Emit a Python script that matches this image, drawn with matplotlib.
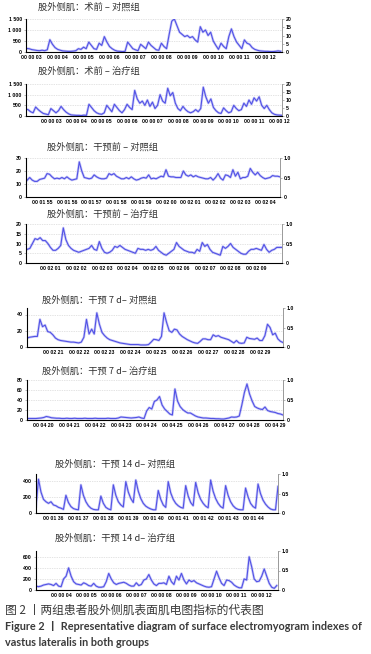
import numpy as np
import matplotlib
matplotlib.use("Agg")
import matplotlib.pyplot as plt
from matplotlib import font_manager

W, H = 371, 654
STEP = 0.1  # seconds between samples

# ---- EMG traces (one value per 0.1 s) ----
pre_ctrl_t0 = 2.8
pre_ctrl = [
    160, 150,
    110, 90, 70, 60, 80, 60, 100, 560, 350, 200,
    120, 80, 50, 40, 30, 30, 40, 60, 150, 120,
    220, 150, 450, 300, 150, 120, 400, 300, 700, 450,
    250, 150, 80, 40, 30, 20, 30, 450, 300, 150,
    100, 60, 350, 250, 150, 450, 300, 200, 100, 80,
    400, 250, 150, 800, 1400, 1500, 1200, 900, 800, 700,
    750, 650, 700, 550, 450, 1150, 900, 1000, 750, 900,
    500, 300, 120, 400, 250, 150, 700, 1050, 700, 450,
    300, 150, 550, 400, 350, 200, 120, 80, 50, 40,
    30, 30, 20, 20, 30, 50, 30,
]

pre_trt_t0 = 2.0
pre_trt = [
    320, 300, 200, 150, 420, 300, 200, 120, 90, 60,
    350, 250, 150, 250, 450, 300, 180, 100, 50, 40,
    30, 30, 20, 40, 30, 550, 400, 250, 150, 100,
    80, 150, 500, 350, 200, 550, 400, 250, 150, 300,
    550, 400, 300, 1200, 800, 600, 700, 500, 750, 450,
    650, 350, 500, 1000, 700, 600, 1300, 950, 1100, 600,
    350, 250, 450, 300, 200, 150, 200, 300, 200, 350,
    1350, 900, 600, 800, 400, 250, 150, 120, 380, 250,
    150, 200, 500, 350, 250, 300, 600, 450, 750, 550,
    850, 700, 900, 500, 350, 500, 300, 150, 80, 50,
    40, 30,
]

base_ctrl_t0 = 114.4
base_ctrl = [
    13, 15, 13, 12, 12, 13.5,
    14, 14.5, 18, 17.5, 15.5, 14, 14.5, 14, 15, 14,
    15.5, 14, 13, 13.5, 14, 27, 20, 15, 14.5, 14,
    14.5, 17, 15.5, 14.5, 14, 14, 14.5, 18, 17, 18,
    16, 15, 14, 14, 15, 14, 15.5, 14, 13, 13.5,
    14.5, 15, 14.5, 17, 14, 14.5, 14, 15, 16, 15.5,
    21, 16, 15.5, 15.5, 15, 15, 15, 20, 17, 16,
    17, 15.5, 16.5, 15.5, 15, 14.5, 14, 14, 15, 13,
    15, 18, 14.5, 13, 17, 16.5, 15, 21, 16, 19,
    14, 15, 15, 16, 22, 19, 17, 19, 16.5, 15,
    14, 14.5, 15, 16.5, 16, 16, 15.5,
]

base_trt_t0 = 120.0
base_trt = [
    7, 7, 7.5, 10, 12.5, 12, 13, 11.5, 11.5, 10,
    8, 6.5, 6.5, 7.5, 9, 18, 12, 9, 7.5, 6.5,
    6, 5.5, 6, 6.5, 7, 7.5, 9, 7, 6.5, 11,
    7.5, 5.5, 5, 5.5, 6.5, 8.5, 8, 9, 8, 7,
    6.5, 6, 5.5, 5, 7.5, 7, 7, 6.5, 7, 6.5,
    7, 8.5, 6.5, 5.5, 4.5, 4, 5, 6, 7, 10.5,
    8.5, 7.5, 6.5, 6, 5.5, 5.5, 5, 7, 6, 10.5,
    8.5, 9.5, 7, 5.5, 5, 4.5, 4, 8.5, 7.5, 8.5,
    10, 8, 7, 6, 5, 4.5, 4.5, 6, 7, 7,
    7.5, 7, 6.5, 9.5, 7, 5.5, 6.5, 7, 8, 8,
    8,
]

d7_ctrl_t0 = 140.0
d7_ctrl = [
    11, 12, 12.5, 13, 13, 34, 25, 27, 19, 18,
    15, 11, 9, 8, 7.5, 7, 6.5, 6, 6, 5.5,
    5, 6, 12, 34, 16, 22, 16, 42, 28, 18,
    14, 11, 9, 8, 7, 6, 5, 4.5, 4, 3.5,
    3, 3, 3, 3, 2.5, 2.5, 2.5, 3, 6, 9.5,
    9, 8, 13, 42, 30, 20, 18, 22, 21, 16,
    13, 11, 9, 7.5, 6, 5, 4.5, 7, 10, 10,
    9, 9, 15, 13, 14, 12, 11, 10, 9, 7,
    5, 8, 5, 4.5, 5, 12, 10.5, 10, 9.5, 11,
    8, 8, 14, 28, 24, 15, 17, 10, 7, 5.5,
]

d7_trt_t0 = 259.4
d7_trt = [
    3, 3, 3, 3, 3.5, 4,
    5, 7, 6, 4.5, 4, 3.5, 3.5, 3, 3, 3.5,
    3, 3, 3.5, 3, 3, 3, 3.5, 3, 3, 3,
    3.5, 3, 3, 3, 3, 3.5, 3, 3, 3, 4,
    6, 5.5, 5, 4.5, 4, 4.5, 5, 6, 4, 3,
    18, 25, 22, 37, 40, 47, 30, 22, 17, 12,
    10, 62, 38, 27, 21, 17, 14, 14, 11, 8,
    6, 5, 4, 4, 3.5, 3, 3, 2.5, 2.5, 2,
    2, 3, 4, 6, 5.5, 6, 8, 30, 55, 72,
    52, 38, 27, 24, 22, 21, 26, 19, 17, 16,
    15, 13, 12, 10,
]

d14_ctrl_t0 = 95.3
d14_ctrl = [
    80, 420, 260, 170, 140, 120, 140,
    100, 90, 70, 60, 45, 220, 130, 80, 55, 45,
    40, 350, 220, 140, 90, 60, 45, 40, 40, 210,
    120, 70, 50, 40, 350, 220, 140, 100, 75, 390,
    260, 180, 130, 410, 270, 180, 120, 85, 65, 50,
    40, 40, 280, 170, 100, 70, 390, 250, 170, 120,
    90, 70, 60, 340, 210, 130, 90, 380, 250, 170,
    120, 85, 65, 410, 270, 180, 120, 80, 60, 340,
    220, 140, 90, 60, 45, 40, 40, 310, 200, 120,
    80, 60, 360, 240, 160, 110, 75, 50, 40, 40,
    330,
]

d14_trt_t0 = 3.0
d14_trt = [
    70, 60, 70, 90, 100, 110, 100, 80, 120, 70,
    60, 200, 250, 400, 250, 150, 110, 100, 90, 130,
    110, 80, 70, 120, 70, 50, 50, 60, 150, 300,
    200, 130, 100, 120, 130, 140, 120, 90, 70, 70,
    130, 80, 100, 180, 200, 280, 180, 110, 80, 120,
    120, 130, 100, 250, 150, 100, 250, 180, 300, 180,
    110, 180, 150, 170, 130, 110, 90, 70, 55, 50,
    60, 200, 340, 220, 120, 80, 180, 170, 140, 90,
    60, 40, 40, 200, 180, 600, 420, 200, 150, 160,
    250, 380, 250, 120, 50, 30, 80,
]

# ---- titles and axis labels ----
titles = [
    "股外侧肌：术前 – 对照组",
    "股外侧肌：术前 – 治疗组",
    "股外侧肌：干预前 – 对照组",
    "股外侧肌：干预前 – 治疗组",
    "股外侧肌：干预 7 d– 对照组",
    "股外侧肌：干预 7 d– 治疗组",
    "股外侧肌：干预 14 d– 对照组",
    "股外侧肌：干预 14 d– 治疗组",
]

pre_ticks = [3, 4, 5, 6, 7, 8, 9, 10, 11, 12]
pre_labels = ["00 00 03", "00 00 04", "00 00 05", "00 00 06", "00 00 07",
              "00 00 08", "00 00 09", "00 00 10", "00 00 11", "00 00 12"]
base_ctrl_ticks = [115, 116, 117, 118, 119, 120, 121, 122, 123, 124]
base_ctrl_labels = ["00 01 55", "00 01 56", "00 01 57", "00 01 58", "00 01 59",
                    "00 02 00", "00 02 01", "00 02 02", "00 02 03", "00 02 04"]
base_trt_ticks = [121, 122, 123, 124, 125, 126, 127, 128, 129]
base_trt_labels = ["00 02 01", "00 02 02", "00 02 03", "00 02 04", "00 02 05",
                   "00 02 06", "00 02 07", "00 02 08", "00 02 09"]
d7_ctrl_ticks = [141, 142, 143, 144, 145, 146, 147, 148, 149]
d7_ctrl_labels = ["00 02 21", "00 02 22", "00 02 23", "00 02 24", "00 02 25",
                  "00 02 26", "00 02 27", "00 02 28", "00 02 29"]
d7_trt_ticks = [260, 261, 262, 263, 264, 265, 266, 267, 268, 269]
d7_trt_labels = ["00 04 20", "00 04 21", "00 04 22", "00 04 23", "00 04 24",
                 "00 04 25", "00 04 26", "00 04 27", "00 04 28", "00 04 29"]
d14_ctrl_ticks = [96, 97, 98, 99, 100, 101, 102, 103, 104]
d14_ctrl_labels = ["00 01 36", "00 01 37", "00 01 38", "00 01 39", "00 01 40",
                   "00 01 41", "00 01 42", "00 01 43", "00 01 44"]
d14_trt_ticks = [4, 5, 6, 7, 8, 9, 10, 11, 12]
d14_trt_labels = ["00 00 04", "00 00 05", "00 00 06", "00 00 07", "00 00 08",
                  "00 00 09", "00 00 10", "00 00 11", "00 00 12"]

# panel layout in pixels: left, right, top, bottom, title x, title y
panels = [
    dict(t0=pre_ctrl_t0, y=pre_ctrl, xlim=(2.78, 12.65), xt=pre_ticks, xl=pre_labels,
         ytop=1500, yt=[0, 500, 1000, 1500], yl=["0", "500", "1 000", "1 500"],
         rtop=20, rt=[0, 5, 10, 15, 20], rl=["0", "5", "10", "15", "20"],
         box=(26, 282, 19, 52), tpos=(38, 7)),
    dict(t0=pre_trt_t0, y=pre_trt, xlim=(2.02, 12.1), xt=pre_ticks, xl=pre_labels,
         ytop=1500, yt=[0, 500, 1000, 1500], yl=["0", "500", "1 000", "1 500"],
         rtop=20, rt=[0, 5, 10, 15, 20], rl=["0", "5", "10", "15", "20"],
         box=(26, 282, 84, 116), tpos=(38, 71)),
    dict(t0=base_ctrl_t0, y=base_ctrl, xlim=(114.35, 124.6), xt=base_ctrl_ticks, xl=base_ctrl_labels,
         ytop=30, yt=[0, 10, 20, 30], yl=["0", "10", "20", "30"],
         rtop=1, rt=[0, 0.5, 1], rl=["0", "0.5", "1.0"],
         box=(26, 280, 158, 197), tpos=(47, 147)),
    dict(t0=base_trt_t0, y=base_trt, xlim=(120.05, 130.0), xt=base_trt_ticks, xl=base_trt_labels,
         ytop=20, yt=[0, 5, 10, 15, 20], yl=["0", "5", "10", "15", "20"],
         rtop=1, rt=[0, 0.5, 1], rl=["0", "0.5", "1.0"],
         box=(26, 282, 224, 263), tpos=(47, 214)),
    dict(t0=d7_ctrl_t0, y=d7_ctrl, xlim=(140.0, 149.9), xt=d7_ctrl_ticks, xl=d7_ctrl_labels,
         ytop=48, yt=[0, 20, 40], yl=["0", "20", "40"],
         rtop=1, rt=[0, 0.5, 1], rl=["0", "0.5", "1.0"],
         box=(27, 283, 308, 347), tpos=(42, 300)),
    dict(t0=d7_trt_t0, y=d7_trt, xlim=(259.35, 269.3), xt=d7_trt_ticks, xl=d7_trt_labels,
         ytop=80, yt=[0, 20, 40, 60, 80], yl=["0", "20", "40", "60", "80"],
         rtop=1, rt=[0, 0.5, 1], rl=["0", "0.5", "1.0"],
         box=(27, 283, 380, 420), tpos=(42, 371)),
    dict(t0=d14_ctrl_t0, y=d14_ctrl, xlim=(95.3, 105.0), xt=d14_ctrl_ticks, xl=d14_ctrl_labels,
         ytop=485, yt=[0, 200, 400], yl=["0", "200", "400"],
         rtop=1, rt=[0, 0.5, 1], rl=["0", "0.5", "1.0"],
         box=(36, 278, 474, 513), tpos=(55, 464)),
    dict(t0=d14_trt_t0, y=d14_trt, xlim=(3.0, 12.65), xt=d14_trt_ticks, xl=d14_trt_labels,
         ytop=705, yt=[0, 200, 400, 600], yl=["0", "200", "400", "600"],
         rtop=1, rt=[0, 0.5, 1], rl=["0", "0.5", "1.0"],
         box=(36, 278, 551, 590), tpos=(55, 538)),
]

LINE = "#5252e6"
SPINE = "#9a9a9a"
installed = {f.name for f in font_manager.fontManager.ttflist}
tick_family = "Liberation Sans Narrow" if "Liberation Sans Narrow" in installed else "Liberation Sans"
TICKFONT = dict(family=tick_family, size=4.2 if tick_family.endswith("Narrow") else 3.7,
                weight="bold")
CJK = ["Noto Sans CJK SC", "DejaVu Sans"]

fig = plt.figure(figsize=(W / 100, H / 100), dpi=100)

for p, title in zip(panels, titles):
    left, right, top, bottom = p["box"]
    ax = fig.add_axes([left / W, 1 - bottom / H, (right - left) / W, (bottom - top) / H])
    vals = np.array(p["y"], dtype=float)
    t = p["t0"] + STEP * np.arange(len(vals))
    ax.plot(t, vals, color=LINE, lw=1.8, alpha=0.3, solid_joinstyle="round")
    ax.plot(t, vals, color=LINE, lw=0.8, solid_joinstyle="round")
    ax.set_xlim(*p["xlim"])
    ax.set_ylim(0, p["ytop"])
    ax.set_xticks(p["xt"])
    ax.set_xticklabels(p["xl"], fontdict=TICKFONT)
    ax.set_yticks(p["yt"])
    ax.set_yticklabels(p["yl"], fontdict=TICKFONT)
    ax.tick_params(axis="x", length=0, pad=2)
    ax.tick_params(axis="y", length=1.5, width=0.5, color=SPINE, pad=1.5)
    for y in p["yt"][1:]:
        ax.axhline(y, color="#c8c8c8", lw=0.5, ls=(0, (1, 1.5)), zorder=0)
    ax.spines["top"].set_visible(False)
    for s in ("left", "bottom", "right"):
        ax.spines[s].set_color(SPINE)
        ax.spines[s].set_linewidth(0.6)

    rax = ax.twinx()
    rax.set_ylim(0, p["rtop"])
    rax.set_yticks(p["rt"])
    rax.set_yticklabels(p["rl"], fontdict=TICKFONT)
    rax.tick_params(axis="y", length=1.5, width=0.5, color=SPINE, pad=1.0)
    rax.spines["top"].set_visible(False)
    rax.spines["right"].set_color(SPINE)
    rax.spines["right"].set_linewidth(0.6)

    tx, ty = p["tpos"]
    fig.text(tx / W, 1 - ty / H, title, family=CJK, fontsize=6.7, color="#333333",
             ha="left", va="center")

fig.text(5 / W, 1 - 610 / H, "图 2 丨两组患者股外侧肌表面肌电图指标的代表图",
         family=CJK, fontsize=8.5, color="#3a3a3a", ha="left", va="center")
fig.text(5 / W, 1 - 627 / H,
         "Figure 2 丨 Representative diagram of surface electromyogram indexes of",
         family=["Lato", "Noto Sans CJK SC"], fontsize=7.85, weight="bold",
         color="#3a3a3a", ha="left", va="center")
fig.text(5 / W, 1 - 643 / H, "vastus lateralis in both groups",
         family=["Lato", "Noto Sans CJK SC"], fontsize=7.85, weight="bold",
         color="#3a3a3a", ha="left", va="center")

fig.savefig("out.png", dpi=100, facecolor="white")
